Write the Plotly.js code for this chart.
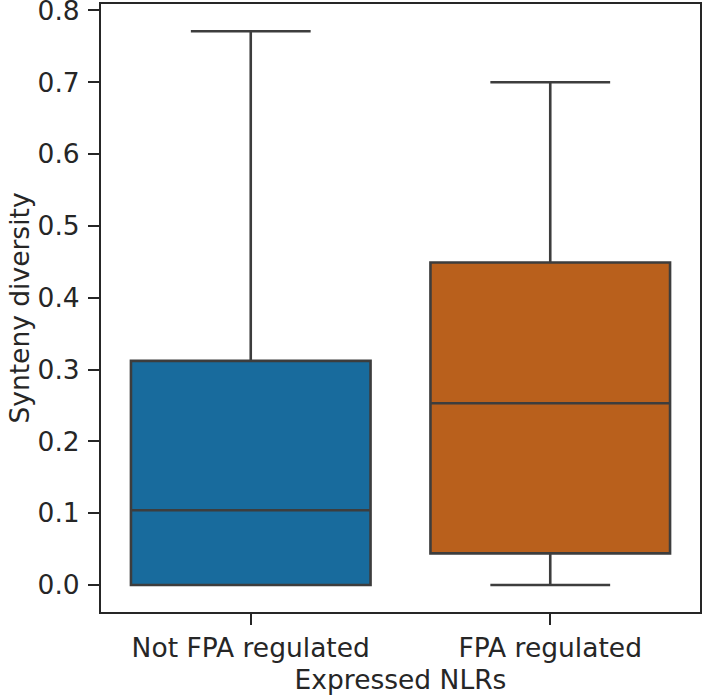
<!DOCTYPE html>
<html>
<head>
<meta charset="utf-8">
<script src="https://cdn.plot.ly/plotly-3.0.1.min.js"></script>
<style>
  html, body { margin: 0; padding: 0; background: #fff; }
  #chart { width: 703px; height: 698px; }
</style>
</head>
<body>
<div id="chart"></div>
<script>
// box statistics
var categories = ['Not FPA regulated', 'FPA regulated'];
var lowerFence = [0.0, 0.0];
var q1 = [0.0, 0.044];
var median = [0.104, 0.253];
var q3 = [0.312, 0.449];
var upperFence = [0.771, 0.700];
var boxColors = ['#186b9d', '#b9601c'];

var edge = '#3d3d3d';
var ink = '#262626';

var data = categories.map(function(cat, i) {
    return {
        type: 'box',
        name: cat,
        x: [cat],
        q1: [q1[i]],
        median: [median[i]],
        q3: [q3[i]],
        lowerfence: [lowerFence[i]],
        upperfence: [upperFence[i]],
        width: 0.8,
        fillcolor: boxColors[i],
        line: { color: edge, width: 2.6 },
        whiskerwidth: 0.5,
        boxpoints: false,
        hoverinfo: 'y'
    };
});

var layout = {
    width: 703,
    height: 698,
    margin: { l: 101, r: 3, t: 4, b: 86, pad: 0 },
    paper_bgcolor: '#ffffff',
    plot_bgcolor: '#ffffff',
    showlegend: false,
    boxmode: 'overlay',
    font: { family: 'DejaVu Sans, sans-serif', size: 26, color: ink },
    xaxis: {
        type: 'category',
        range: [-0.5, 1.5],
        showgrid: false,
        zeroline: false,
        showline: true,
        mirror: true,
        linecolor: ink,
        linewidth: 2,
        ticks: 'outside',
        ticklen: 11,
        tickwidth: 2,
        tickcolor: ink,
        tickfont: { size: 26.5, color: ink },
        title: { text: 'Expressed NLRs', font: { size: 26.5, color: ink }, standoff: 9 }
    },
    yaxis: {
        range: [-0.0377, 0.809],
        tickvals: [0, 0.1, 0.2, 0.3, 0.4, 0.5, 0.6, 0.7, 0.8],
        tickformat: '.1f',
        ticklabeloverflow: 'allow',
        ticklabelstandoff: 3,
        showgrid: false,
        zeroline: false,
        showline: true,
        mirror: true,
        linecolor: ink,
        linewidth: 2,
        ticks: 'outside',
        ticklen: 11,
        tickwidth: 2,
        tickcolor: ink,
        tickfont: { size: 26.5, color: ink },
        title: { text: 'Synteny diversity', font: { size: 26.5, color: ink }, standoff: 0 }
    }
};

var config = { displayModeBar: false, responsive: false };

Plotly.newPlot('chart', data, layout, config);
</script>
</body>
</html>
